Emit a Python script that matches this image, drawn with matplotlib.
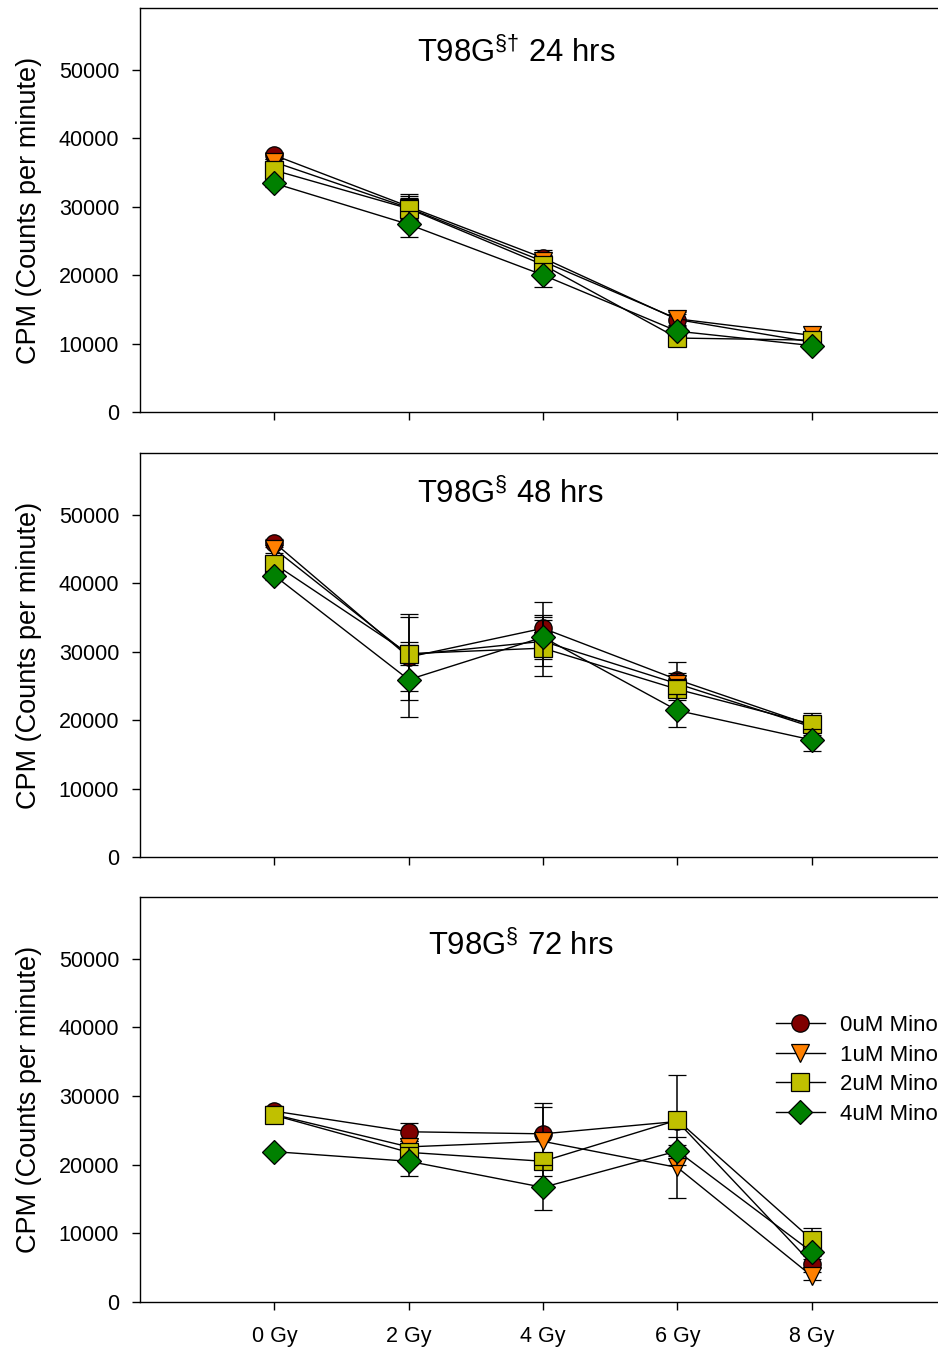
"""
plot.py

T98G CPM vs radiation dose, three time points (24/48/72 hrs),
four minocycline concentrations each.
"""
import matplotlib
matplotlib.use("Agg")
import matplotlib.pyplot as plt

plt.rcParams["font.family"] = ["Liberation Sans", "DejaVu Sans"]
plt.rcParams["mathtext.fontset"] = "custom"
plt.rcParams["mathtext.rm"] = "Liberation Sans"
plt.rcParams["mathtext.it"] = "Liberation Sans:italic"
plt.rcParams["mathtext.bf"] = "Liberation Sans:bold"

DOSES = [0, 2, 4, 6, 8]
DOSE_LABELS = ["0 Gy", "2 Gy", "4 Gy", "6 Gy", "8 Gy"]
SERIES = ["0uM Mino", "1uM Mino", "2uM Mino", "4uM Mino"]
TITLES = [r"T98G$^{\mathrm{§†}}$ 24 hrs", r"T98G$^{\mathrm{§}}$ 48 hrs", r"T98G$^{\mathrm{§}}$ 72 hrs"]

# --- 24 hrs ---
cpm_24 = [
    [37500, 30000, 22500, 13500, 10200],
    [36500, 29800, 22000, 13600, 11200],
    [35300, 29700, 21500, 10800, 10500],
    [33400, 27400, 20000, 11800, 9700],
]
err_24 = [
    [500, 1900, 1100, 800, 400],
    [500, 1700, 900, 1000, 400],
    [500, 1500, 900, 600, 400],
    [500, 1900, 1800, 600, 400],
]

# --- 48 hrs ---
cpm_48 = [
    [45900, 29200, 33400, 25900, 19200],
    [45000, 29500, 31500, 25300, 19000],
    [42800, 29700, 30500, 24500, 19400],
    [41100, 25900, 32100, 21400, 17100],
]
err_48 = [
    [600, 6300, 3800, 2600, 800],
    [600, 1500, 3600, 1500, 800],
    [600, 5400, 4100, 1500, 1600],
    [600, 5500, 3200, 2400, 1600],
]

# --- 72 hrs ---
cpm_72 = [
    [27800, 24800, 24500, 26300, 5600],
    [27300, 22600, 23400, 19600, 3800],
    [27200, 21800, 20500, 26500, 9100],
    [21900, 20500, 16700, 22000, 7300],
]
err_72 = [
    [400, 1300, 4500, 1000, 600],
    [400, 800, 5000, 4400, 600],
    [400, 800, 800, 6600, 1700],
    [400, 2100, 3300, 800, 600],
]

PANELS = [(cpm_24, err_24), (cpm_48, err_48), (cpm_72, err_72)]

COLORS = ["#800000", "#FF8000", "#C0C000", "#008000"]
MARKERS = ["o", "v", "s", "D"]
MSIZES = [12.5, 13, 12.5, 12]

W, H = 938, 1349
fig = plt.figure(figsize=(W / 100, H / 100), dpi=100)

# axes boxes in pixels: (top, bottom)
boxes = [(8, 412), (453, 857), (897, 1302)]
left_px = 140
title_pos = [(0.472, 0.889), (0.464, 0.899), (0.478, 0.879)]

for i, ((cpm, err), (top, bot)) in enumerate(zip(PANELS, boxes)):
    ax = fig.add_axes([left_px / W, (H - bot) / H, (W - left_px) / W, (bot - top) / H])
    handles = []
    for j in range(len(SERIES)):
        eb = ax.errorbar(
            DOSES, cpm[j], yerr=err[j],
            fmt="-", marker=MARKERS[j], color="black", lw=1.0,
            mfc=COLORS[j], mec="black", mew=0.9, ms=MSIZES[j],
            ecolor="black", elinewidth=1.1, capsize=6.5, capthick=1.3,
            zorder=2 + j,
        )
        handles.append(eb.lines[0])

    ax.set_xlim(-2.0, 9.88)
    ax.set_ylim(0, 59000)
    ax.set_yticks([0, 10000, 20000, 30000, 40000, 50000])
    ax.set_xticks(DOSES)
    if i == 2:
        ax.set_xticklabels(DOSE_LABELS)
    else:
        ax.set_xticklabels([])
    ax.tick_params(direction="out", length=6, width=1.0, labelsize=15.5, pad=9)
    ax.tick_params(axis="x", pad=11)
    ax.spines["right"].set_visible(False)
    for s in ["left", "bottom", "top"]:
        ax.spines[s].set_linewidth(1.0)

    ax.set_ylabel("CPM (Counts per minute)", fontsize=19.5)
    ax.yaxis.set_label_coords(-0.123, 0.5)

    tx, ty = title_pos[i]
    ax.text(tx, ty, TITLES[i], transform=ax.transAxes, ha="center", va="center", fontsize=22.3)

    if i == 2:
        ax.legend(
            handles, SERIES, loc="upper right", bbox_to_anchor=(1.0, 0.709),
            frameon=False, fontsize=16, numpoints=1, handlelength=2.2,
            handletextpad=0.7, labelspacing=0.39, borderpad=0, borderaxespad=0,
        )

fig.savefig("out.png", dpi=100)
